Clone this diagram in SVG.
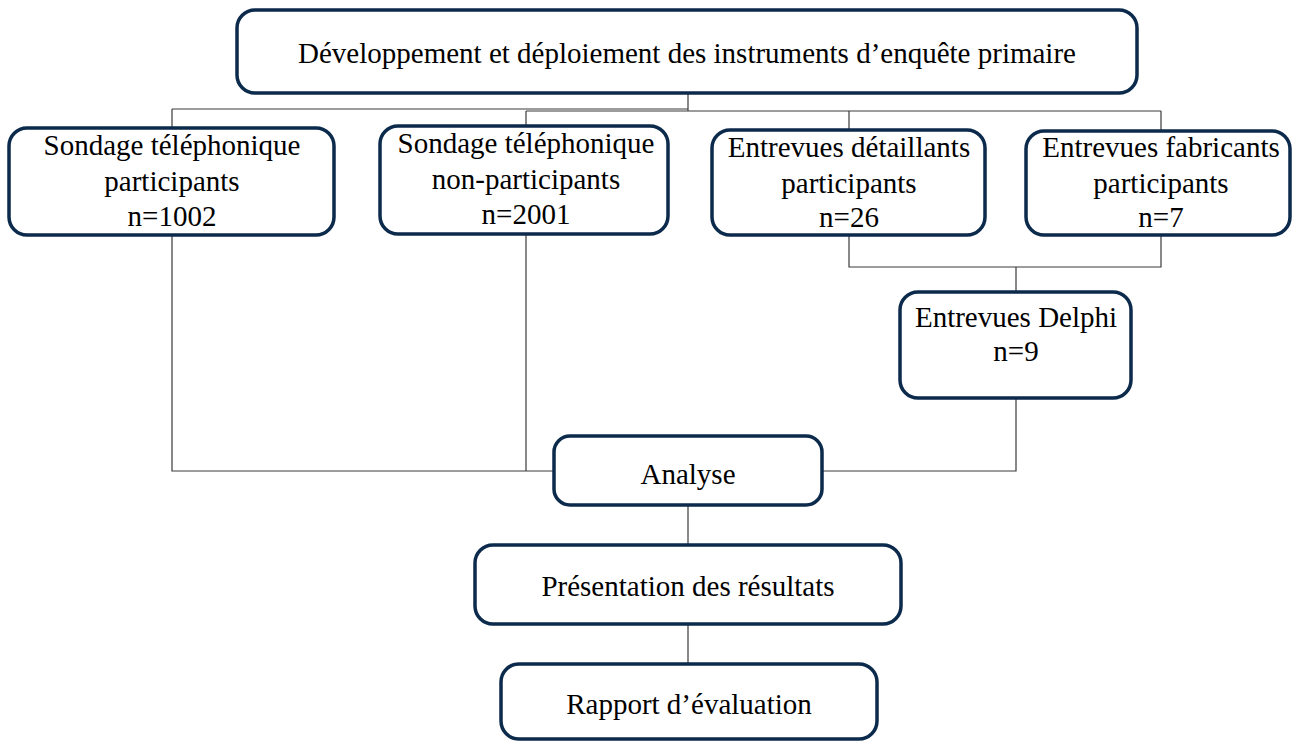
<svg xmlns="http://www.w3.org/2000/svg" width="1295" height="741" viewBox="0 0 1295 741">
<style>
.box{fill:#fff;stroke:#0c2a4b;stroke-width:3.5}
.t{font-family:"Liberation Serif","Times New Roman",serif;font-size:29px;fill:#000;text-anchor:middle}
.c{fill:none;stroke:#3a3a3a;stroke-width:1.2}
</style>
<rect width="1295" height="741" fill="#fff"/>
<g id="connectors">
<path class="c" d="M688 93 V111 M172 109 H688 M526 111 H1161 M172 109 V128 M526 111 V126 M849 111 V130 M1161 111 V131"/>
<path class="c" d="M849 235 V267 H1161 V235 M1016 267 V292"/>
<path class="c" d="M172 236 V471 H554 M526 234 V471 M822 471 H1016 V398"/>
<path class="c" d="M688 505 V545 M688 624 V664"/>
</g>
<g id="n_top"><rect class="box" x="237" y="10" width="900" height="83" rx="18"/><text class="t" x="687" y="63">Développement et déploiement des instruments d’enquête primaire</text></g>
<g id="n_sp"><rect class="box" x="9" y="128" width="325" height="107" rx="18"/><text class="t" x="172" y="155">Sondage téléphonique</text><text class="t" x="172" y="191">participants</text><text class="t" x="172" y="226">n=1002</text></g>
<g id="n_snp"><rect class="box" x="380" y="126" width="288" height="108" rx="18"/><text class="t" x="526" y="153">Sondage téléphonique</text><text class="t" x="526" y="189">non-participants</text><text class="t" x="526" y="224">n=2001</text></g>
<g id="n_ed"><rect class="box" x="712" y="130" width="273" height="105" rx="18"/><text class="t" x="849" y="157">Entrevues détaillants</text><text class="t" x="849" y="193">participants</text><text class="t" x="849" y="227">n=26</text></g>
<g id="n_ef"><rect class="box" x="1026" y="131" width="264" height="104" rx="18"/><text class="t" x="1161" y="157">Entrevues fabricants</text><text class="t" x="1161" y="193">participants</text><text class="t" x="1161" y="227">n=7</text></g>
<g id="n_delphi"><rect class="box" x="900" y="292" width="231" height="106" rx="18"/><text class="t" x="1016" y="327">Entrevues Delphi</text><text class="t" x="1016" y="361">n=9</text></g>
<g id="n_analyse"><rect class="box" x="554" y="436" width="268" height="69" rx="16"/><text class="t" x="688" y="484">Analyse</text></g>
<g id="n_pres"><rect class="box" x="475" y="545" width="426" height="79" rx="18"/><text class="t" x="688" y="596">Présentation des résultats</text></g>
<g id="n_rapport"><rect class="box" x="501" y="664" width="376" height="75" rx="18"/><text class="t" x="689" y="714">Rapport d’évaluation</text></g>
</svg>
